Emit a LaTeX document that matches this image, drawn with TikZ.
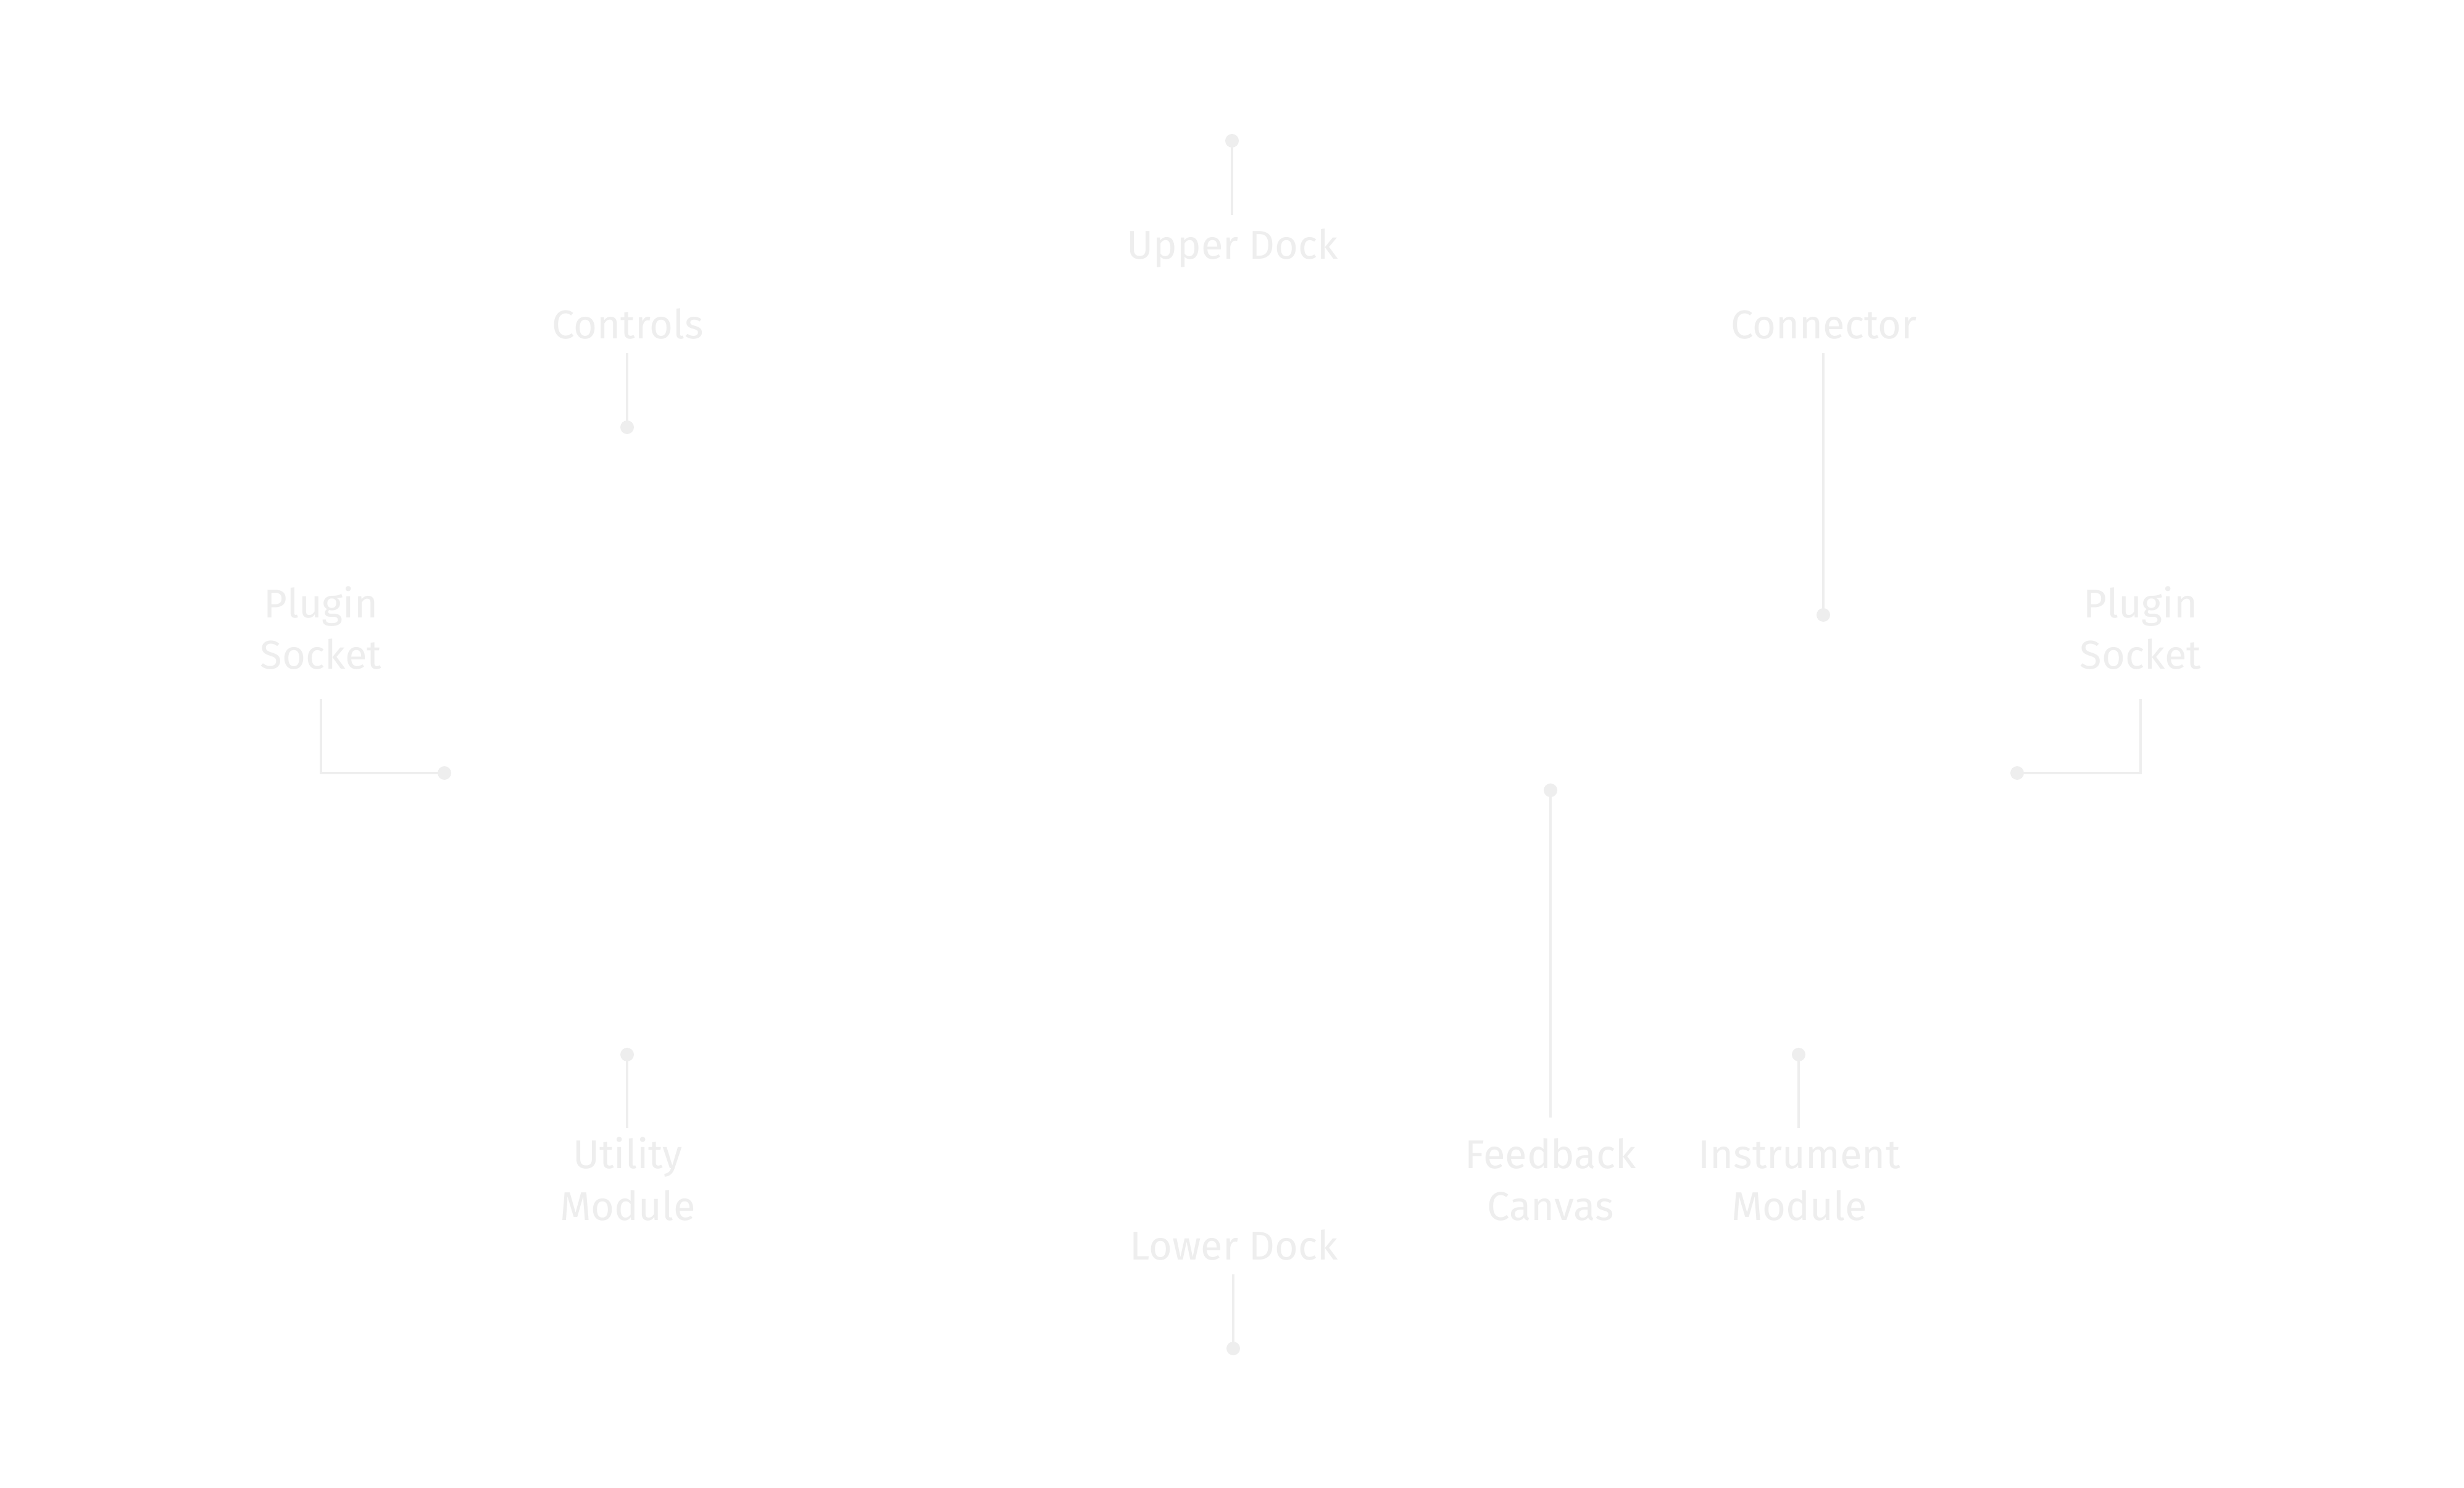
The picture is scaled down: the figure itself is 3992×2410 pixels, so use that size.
\documentclass[tikz,border=0pt]{standalone}
\usepackage{fontspec}
\setmainfont{Fira Sans}
\definecolor{faint}{RGB}{238,238,238}
\begin{document}
\begin{tikzpicture}[x=0.01cm,y=-0.01cm,
  lbl/.style={text=faint,font=\fontsize{18.5}{23.8}\selectfont,align=center,anchor=base,inner sep=0pt},
  dot/.style={circle,fill=faint,draw=none,minimum size=0.22cm,inner sep=0pt},
  lead/.style={draw=faint,line width=0.04cm}]
\useasboundingbox[fill=white] (0,0) rectangle (3992,2410);

% labels (base = baseline of the last line)
\node[lbl] (upper) at (1997,420) {Upper Dock};
\node[lbl] (controls) at (1017,549) {Controls};
\node[lbl] (connector) at (2955,549) {Connector};
\node[lbl] (psl) at (520,1084) {Plugin\\Socket};
\node[lbl] (psr) at (3468,1084) {Plugin\\Socket};
\node[lbl] (utility) at (1017,1976) {Utility\\Module};
\node[lbl] (feedback) at (2512,1976) {Feedback\\Canvas};
\node[lbl] (instrument) at (2915,1976) {Instrument\\Module};
\node[lbl] (lower) at (1999,2040) {Lower Dock};

% dots
\node[dot] (d-upper) at (1996,228) {};
\node[dot] (d-controls) at (1016,692) {};
\node[dot] (d-connector) at (2954,996) {};
\node[dot] (d-psl) at (720,1252) {};
\node[dot] (d-psr) at (3268,1252) {};
\node[dot] (d-utility) at (1016,1708) {};
\node[dot] (d-feedback) at (2512,1280) {};
\node[dot] (d-instrument) at (2914,1708) {};
\node[dot] (d-lower) at (1998,2184) {};

% leader ends
\coordinate (e-upper) at (1996,348);
\coordinate (e-controls) at (1016,572);
\coordinate (e-connector) at (2954,572);
\coordinate (e-psl) at (520,1132);
\coordinate (e-psr) at (3468,1132);
\coordinate (e-utility) at (1016,1827);
\coordinate (e-feedback) at (2512,1810);
\coordinate (e-instrument) at (2914,1827);
\coordinate (e-lower) at (1998,2064);

% leaders
\path[lead] (d-upper.center) -- (e-upper);
\path[lead] (d-controls.center) -- (e-controls);
\path[lead] (d-connector.center) -- (e-connector);
\path[lead] (d-psl.center) -| (e-psl);
\path[lead] (d-psr.center) -| (e-psr);
\path[lead] (d-utility.center) -- (e-utility);
\path[lead] (d-feedback.center) -- (e-feedback);
\path[lead] (d-instrument.center) -- (e-instrument);
\path[lead] (d-lower.center) -- (e-lower);
\end{tikzpicture}
\end{document}
